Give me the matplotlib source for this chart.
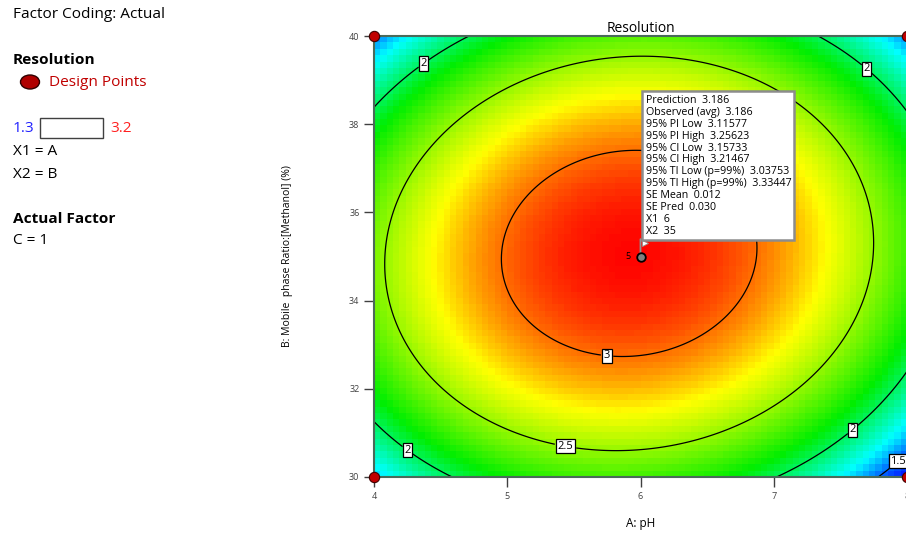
import numpy as np
import matplotlib.pyplot as plt
from matplotlib.colors import LinearSegmentedColormap, Normalize
from matplotlib.patches import Rectangle, Ellipse
from matplotlib.transforms import offset_copy

plt.rcParams['font.family'] = ['Open Sans', 'DejaVu Sans']

# axes / factor levels
ph_ticks = [4, 5, 6, 7, 8]
meoh_ticks = [30, 32, 34, 36, 38, 40]

# design points: corners and the replicated centre point
design_ph = [4, 4, 8, 8]
design_meoh = [30, 40, 30, 40]
center_ph, center_meoh, center_reps = 6, 35, 5

# quadratic surface
peak, ph0, meoh0 = 3.188, 5.915, 35.07
k_ph, k_meoh, k_int = 0.205, 0.0345, 0.009
contour_levels = [1.5, 2, 2.5, 3]
label_spots = [(4.353, 39.46), (7.70, 39.27), (5.755, 32.93), (5.447, 30.87),
               (4.281, 30.73), (7.568, 31.16), (7.913, 30.43)]
z_low, z_high = 1.3, 3.2

info_lines = ["Prediction  3.186", "Observed (avg)  3.186", "95% PI Low  3.11577",
              "95% PI High  3.25623", "95% CI Low  3.15733", "95% CI High  3.21467",
              "95% TI Low (p=99%)  3.03753", "95% TI High (p=99%)  3.33447",
              "SE Mean  0.012", "SE Pred  0.030", "X1  6", "X2  35"]


def resolution(a, b):
    da = a - ph0
    db = b - meoh0
    return peak - k_ph * da**2 - k_meoh * db**2 + k_int * da * db


W, H = 906, 537
fig = plt.figure(figsize=(W / 100, H / 100), dpi=100)
ax = fig.add_axes([374 / W, 60 / H, 533 / W, 441 / H])

cmap = LinearSegmentedColormap.from_list(
    "de", [(0, "#0000ff"), (0.1, "#0060ff"), (0.22, "#00ffff"), (0.45, "#00ee00"),
           (0.76, "#ffff00"), (1, "#ff0000")])

# coarse colour cells like the original
xe = np.linspace(4, 8, 85)
ye = np.linspace(30, 40, 70)
xc = (xe[:-1] + xe[1:]) / 2
yc = (ye[:-1] + ye[1:]) / 2
Zc = resolution(*np.meshgrid(xc, yc))
ax.pcolormesh(xe, ye, Zc, cmap=cmap, norm=Normalize(z_low, z_high), shading='flat')

xf = np.linspace(4, 8, 300)
yf = np.linspace(30, 40, 300)
Zf = resolution(*np.meshgrid(xf, yf))
cs = ax.contour(xf, yf, Zf, levels=contour_levels, colors='black', linewidths=0.9)
labels = ax.clabel(cs, fmt=lambda v: f"{v:g}", manual=label_spots, inline=True,
                   inline_spacing=3, fontsize=8)
for t in labels:
    t.set_rotation(0)
    t.set_bbox(dict(boxstyle='square,pad=0.15', fc='white', ec='black', lw=0.9))

# design points
ax.scatter(design_ph, design_meoh, s=55, c='#c00000', edgecolors='#400000',
           linewidths=0.8, zorder=5, clip_on=False)
# flag of the selected point
ax.annotate("", (center_ph, center_meoh), xytext=(0, 12.5), textcoords='offset points',
            arrowprops=dict(arrowstyle='-', color='#909090', lw=1.3, shrinkA=0, shrinkB=0))
ax.plot([center_ph], [center_meoh], marker='>', ms=4, mfc='white', mec='#909090', mew=0.6,
        transform=offset_copy(ax.transData, fig=fig, x=3, y=10, units='points'), zorder=6)
ax.scatter([center_ph], [center_meoh], s=38, c='#808080', edgecolors='black',
           linewidths=1.3, zorder=7)
ax.annotate(str(center_reps), (center_ph, center_meoh), xytext=(-7, 0),
            textcoords='offset points', ha='right', va='center', fontsize=6.5)

ax.annotate("\n".join(info_lines), (center_ph, center_meoh), xytext=(3.6, 116.5),
            textcoords='offset points', ha='left', va='top', fontsize=7.7,
            linespacing=1.12, zorder=8,
            bbox=dict(boxstyle='square,pad=0.3', fc='white', ec='#8c8c8c', lw=1.8))

ax.set_xlim(4, 8)
ax.set_ylim(30, 40)
ax.set_xticks(ph_ticks)
ax.set_yticks(meoh_ticks)
ax.tick_params(direction='out', length=7, width=1, colors='#404040',
               labelsize=6.5, labelcolor='#404040')
for s in ax.spines.values():
    s.set_color('#4a6a5a')
    s.set_linewidth(1.5)
ax.set_title("Resolution", fontsize=10, pad=3)
ax.set_xlabel("A: pH", fontsize=8.5, labelpad=12)
ax.set_ylabel("B: Mobile  phase Ratio:[Methanol] (%)", fontsize=7.5, labelpad=40)


# left legend panel
def ft(x, y, s, **kw):
    fig.text(x / W, 1 - y / H, s, va='center', fontsize=11.1, **kw)


ft(13, 14, "Factor Coding: Actual")
ft(13, 60, "Resolution", fontweight='bold')
fig.add_artist(Ellipse((30 / W, 1 - 82 / H), 19 / W, 14 / H, fc='#b00000', ec='#300000',
                       lw=1, transform=fig.transFigure))
ft(49, 82, "Design Points", color='#c00000')
ft(13, 128, "1.3", color='#2020ff')
fig.add_artist(Rectangle((40 / W, 1 - 138 / H), 63 / W, 20 / H, fill=False,
                         ec='#404040', lw=1, transform=fig.transFigure))
ft(110, 128, "3.2", color='#ff2020')
ft(13, 152, "X1 = A")
ft(13, 174, "X2 = B")
ft(13, 219, "Actual Factor", fontweight='bold')
ft(13, 241, "C = 1")

fig.savefig("out.png", dpi=100)
